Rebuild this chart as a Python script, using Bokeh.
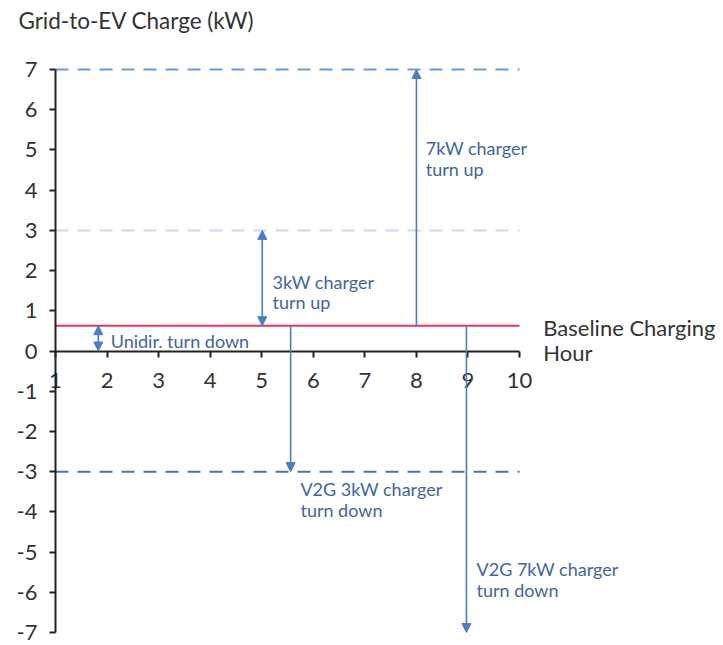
from bokeh.plotting import figure
from bokeh.models import LinearAxis, FixedTicker, Arrow, NormalHead, Label, ColumnDataSource
from bokeh.embed import file_html
from bokeh.resources import INLINE
from bokeh.core.properties import value

# ---- data ----
hours = [1, 2, 3, 4, 5, 6, 7, 8, 9, 10]
y_ticks = [-7, -6, -5, -4, -3, -2, -1, 0, 1, 2, 3, 4, 5, 6, 7]
baseline = 0.63
level_values = [7, 3, -3]
level_colors = ["#6C9BD8", "#C9DAF0", "#4F73A6"]
arrow_x = [1.83, 5.01, 8.0, 5.56, 8.97]
arrow_end = [0.0, 3.0, 7.0, -3.0, -7.0]
arrow_double = [True, True, False, False, False]
label_x = [5.21, 8.18, 5.75, 9.165]
label_y = [2.0, 5.31, -3.17, -5.16]
label_text = ["3kW charger\nturn up", "7kW charger\nturn up",
              "V2G 3kW charger\nturn down", "V2G 7kW charger\nturn down"]
unidir_x = [2.07]
unidir_y = [0.26]
unidir_text = ["Unidir. turn down"]
title_text = "Grid-to-EV Charge (kW)"
side_labels = ["Baseline Charging", "Hour"]

FONT = "Lato"
TXT_BLUE = "#3F66A0"
ARROW_BLUE = "#4A7EC4"
DARK = "#333333"

p = figure(width=720, height=644, x_range=(-0.0667, 13.897), y_range=(-7.299, 8.717),
           output_backend="svg", toolbar_location=None,
           min_border_left=0, min_border_top=0, min_border_right=0,
           min_border_bottom=0, x_axis_type=None, y_axis_type=None)
p.outline_line_color = None
p.grid.visible = False
p.background_fill_color = "white"

# y axis at x = 1
yax = LinearAxis(ticker=FixedTicker(ticks=y_ticks), fixed_location=hours[0],
                 bounds=(y_ticks[0], y_ticks[-1]))
yax.major_label_overrides = {t: str(t) for t in y_ticks}
yax.axis_line_width = 2
yax.axis_line_color = "#222222"
yax.major_tick_line_color = "#222222"
yax.major_tick_line_width = 2
yax.major_tick_out = 6
yax.major_tick_in = 0
yax.minor_tick_line_color = None
yax.major_label_standoff = 12
yax.major_label_text_font = FONT
yax.major_label_text_font_size = "22px"
yax.major_label_text_color = DARK
p.add_layout(yax, "left")

# x axis crossing at zero
xax = LinearAxis(ticker=FixedTicker(ticks=hours), fixed_location=0,
                 bounds=(hours[0], hours[-1]))
xax.major_label_overrides = {h: str(h) for h in hours}
xax.axis_line_width = 2
xax.axis_line_color = "#222222"
xax.major_tick_line_color = "#222222"
xax.major_tick_line_width = 2
xax.major_tick_out = 6
xax.major_tick_in = 0
xax.minor_tick_line_color = None
xax.major_label_standoff = 16
xax.major_label_text_font = FONT
xax.major_label_text_font_size = "22px"
xax.major_label_text_color = DARK
p.add_layout(xax, "below")

# dashed level lines
for lv, col in zip(level_values, level_colors):
    p.line(x=[hours[0], hours[-1]], y=[lv, lv], line_color=col,
           line_width=2, line_dash="13 9")

# baseline
p.line(x=[hours[0], hours[-1]], y=[baseline, baseline], line_color="#E0365E", line_width=2)

# arrows
for ax_, ae, dbl in zip(arrow_x, arrow_end, arrow_double):
    end = NormalHead(size=9, fill_color=ARROW_BLUE, line_color=ARROW_BLUE)
    start = NormalHead(size=9, fill_color=ARROW_BLUE, line_color=ARROW_BLUE) if dbl else None
    p.add_layout(Arrow(x_start=ax_, y_start=baseline, x_end=ax_, y_end=ae,
                       line_color=ARROW_BLUE, line_width=1.6, end=end, start=start))

# annotation texts
src = ColumnDataSource(dict(x=label_x, y=label_y, t=label_text))
p.text(x="x", y="y", text="t", source=src, text_font=value(FONT),
       text_font_size="18px", text_color=TXT_BLUE, text_baseline="top",
       text_align="left", text_line_height=0.95)
src2 = ColumnDataSource(dict(x=unidir_x, y=unidir_y, t=unidir_text))
p.text(x="x", y="y", text="t", source=src2, text_font=value(FONT),
       text_font_size="18px", text_color=TXT_BLUE, text_baseline="middle",
       text_align="left")

# outside labels
p.add_layout(Label(x=10.46, y=0.59, text=side_labels[0], text_font=FONT,
                   text_font_size="22px", text_color=DARK, text_baseline="middle"))
p.add_layout(Label(x=10.46, y=-0.04, text=side_labels[1], text_font=FONT,
                   text_font_size="22px", text_color=DARK, text_baseline="middle"))
p.add_layout(Label(x=0.28, y=8.22, text=title_text, text_font=FONT,
                   text_font_size="22.5px", text_color=DARK, text_baseline="middle"))

open("out.html", "w").write(file_html(p, INLINE))
